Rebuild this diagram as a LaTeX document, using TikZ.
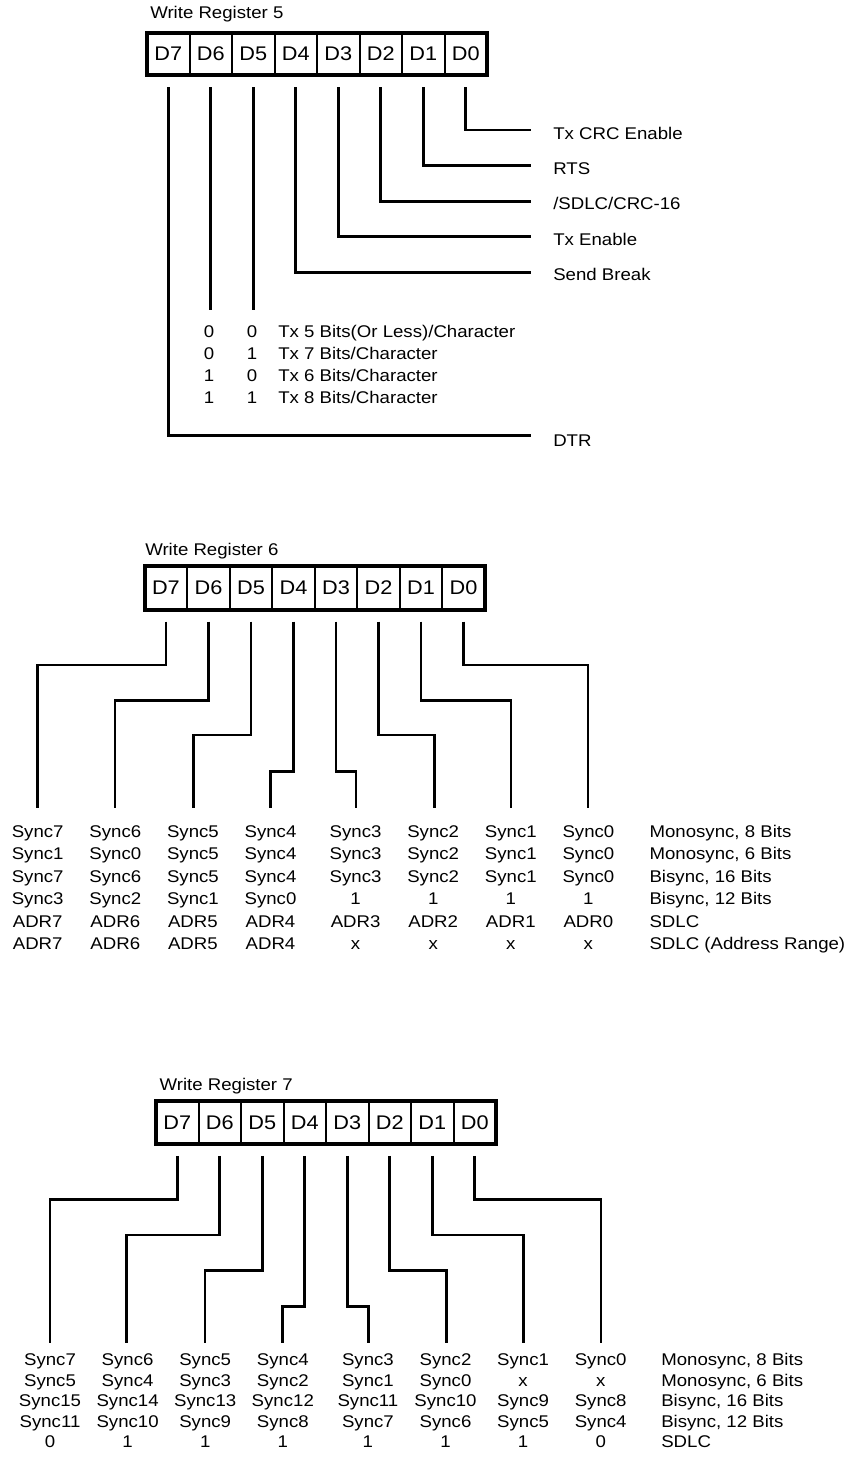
\documentclass[tikz,border=0pt]{standalone}
\usepackage{fontspec}
\setmainfont{Liberation Sans}[FakeStretch=1.1]
\tikzset{
  conn/.style={line width=2pt},
  frame/.style={line width=3pt},
  cell/.style={draw, line width=1.5pt, inner sep=0pt, outer sep=0pt,
    minimum width=31.875pt, font=\fontsize{14.8pt}{17pt}\selectfont},
  lbl/.style={inner sep=0pt, font=\fontsize{12.7pt}{15pt}\selectfont},
  ttl/.style={lbl, anchor=base west},
}
\begin{document}
\begin{tikzpicture}[x=0.75pt, y=-0.75pt]
\useasboundingbox (0,0) rectangle (848,1465);

%% ================= Write Register 5 =================
\node[ttl] (t5) at (150,18) {Write Register 5};
\foreach \b [count=\k from 0] in {7,6,5,4,3,2,1,0}{
  \node[cell, minimum height=31.5pt] (p\b) at ({147+42.5*\k+21.25},54) {D\b};
}
\draw[frame] (p7.north west) rectangle (p0.south east);

\coordinate (e0) at (531,130);
\coordinate (e1) at (531,165.6);
\coordinate (e2) at (531,201.2);
\coordinate (e3) at (531,236.8);
\coordinate (e4) at (531,272.4);
\coordinate (e7) at (531,435.7);
\coordinate (T5) at (0,310);
\foreach \b in {0,1,2,3,4,7}{
  \draw[conn] ([yshift=-9pt]p\b.south) |- (e\b);
}
\foreach \b in {6,5}{
  \draw[conn] ([yshift=-9pt]p\b.south) -- (p\b.south |- T5);
}
\node[lbl, anchor=base west] (l0) at (553,139) {Tx CRC Enable};
\node[lbl, anchor=base west] (l1) at (553,174.5) {RTS};
\node[lbl, anchor=base west] (l2) at (553,209.5) {/SDLC/CRC-16};
\node[lbl, anchor=base west] (l3) at (553,245) {Tx Enable};
\node[lbl, anchor=base west] (l4) at (553,280) {Send Break};
\node[lbl, anchor=base west] (l7) at (553,446) {DTR};

\foreach \a/\bb/\t [count=\r] in {0/0/{Tx 5 Bits(Or Less)/Character},
  0/1/{Tx 7 Bits/Character}, 1/0/{Tx 6 Bits/Character}, 1/1/{Tx 8 Bits/Character}}{
  \pgfmathsetmacro\yy{337+22*(\r-1)}
  \node[lbl, anchor=base] (m\r a) at (209,\yy) {\a};
  \node[lbl, anchor=base] (m\r b) at (252,\yy) {\bb};
  \node[lbl, anchor=base west] (m\r t) at (278,\yy) {\t};
}

%% ================= Write Register 6 =================
\node[ttl] (t6) at (145,555) {Write Register 6};
\foreach \b [count=\k from 0] in {7,6,5,4,3,2,1,0}{
  \node[cell, minimum height=32.8pt] (q\b) at ({144.7+42.5*\k+21.25},587.85) {D\b};
}
\draw[frame] (q7.north west) rectangle (q0.south east);

\coordinate (L1) at (0,665);
\coordinate (L2) at (0,700.7);
\coordinate (L3) at (0,735);
\coordinate (L4) at (0,771.7);
\foreach \b/\x/\lv in {7/37.7/L1, 6/115/L2, 5/193.3/L3, 4/270.7/L4,
                       3/356/L4, 2/434.3/L3, 1/511/L2, 0/588/L1}{
  \coordinate (q\b e) at (\x,807.7);
  \draw[conn] ([yshift=-9pt]q\b.south) -- (q\b.south |- \lv) -| (q\b e);
}

\foreach \row [count=\r] in {
  {Sync7,Sync6,Sync5,Sync4,Sync3,Sync2,Sync1,Sync0},
  {Sync1,Sync0,Sync5,Sync4,Sync3,Sync2,Sync1,Sync0},
  {Sync7,Sync6,Sync5,Sync4,Sync3,Sync2,Sync1,Sync0},
  {Sync3,Sync2,Sync1,Sync0,1,1,1,1},
  {ADR7,ADR6,ADR5,ADR4,ADR3,ADR2,ADR1,ADR0},
  {ADR7,ADR6,ADR5,ADR4,x,x,x,x}}{
  \pgfmathsetmacro\yy{837+22.5*(\r-1)}
  \foreach \t [count=\c] in \row {
    \pgfmathsetmacro\xx{37.7+77.6*(\c-1)+7.5*(\c>4)}
    \node[lbl, anchor=base] (s6-\r-\c) at (\xx,\yy) {\t};
  }
}
\foreach \t [count=\r] in {{Monosync, 8 Bits},{Monosync, 6 Bits},{Bisync, 16 Bits},
  {Bisync, 12 Bits},{SDLC},{SDLC (Address Range)}}{
  \pgfmathsetmacro\yy{837+22.5*(\r-1)}
  \node[lbl, anchor=base west] (s6m-\r) at (649.3,\yy) {\t};
}

%% ================= Write Register 7 =================
\node[ttl] (t7) at (159.3,1090) {Write Register 7};
\foreach \b [count=\k from 0] in {7,6,5,4,3,2,1,0}{
  \node[cell, minimum height=32pt] (r\b) at ({156+42.5*\k+21.25},1122.65) {D\b};
}
\draw[frame] (r7.north west) rectangle (r0.south east);

\coordinate (M1) at (0,1199.3);
\coordinate (M2) at (0,1235);
\coordinate (M3) at (0,1270.7);
\coordinate (M4) at (0,1306.7);
\foreach \b/\x/\lv in {7/50/M1, 6/126.7/M2, 5/205/M3, 4/282.7/M4,
                       3/368.3/M4, 2/446.7/M3, 1/523.5/M2, 0/601/M1}{
  \coordinate (r\b e) at (\x,1342.7);
  \draw[conn] ([yshift=-9pt]r\b.south) -- (r\b.south |- \lv) -| (r\b e);
}

\foreach \row [count=\r] in {
  {Sync7,Sync6,Sync5,Sync4,Sync3,Sync2,Sync1,Sync0},
  {Sync5,Sync4,Sync3,Sync2,Sync1,Sync0,x,x},
  {Sync15,Sync14,Sync13,Sync12,Sync11,Sync10,Sync9,Sync8},
  {Sync11,Sync10,Sync9,Sync8,Sync7,Sync6,Sync5,Sync4},
  {0,1,1,1,1,1,1,0}}{
  \pgfmathsetmacro\yy{1365.5+20.6*(\r-1)}
  \foreach \t [count=\c] in \row {
    \pgfmathsetmacro\xx{50+77.6*(\c-1)+7.5*(\c>4)}
    \node[lbl, anchor=base] (s7-\r-\c) at (\xx,\yy) {\t};
  }
}
\foreach \t [count=\r] in {{Monosync, 8 Bits},{Monosync, 6 Bits},{Bisync, 16 Bits},
  {Bisync, 12 Bits},{SDLC}}{
  \pgfmathsetmacro\yy{1365.5+20.6*(\r-1)}
  \node[lbl, anchor=base west] (s7m-\r) at (661,\yy) {\t};
}
\end{tikzpicture}
\end{document}
